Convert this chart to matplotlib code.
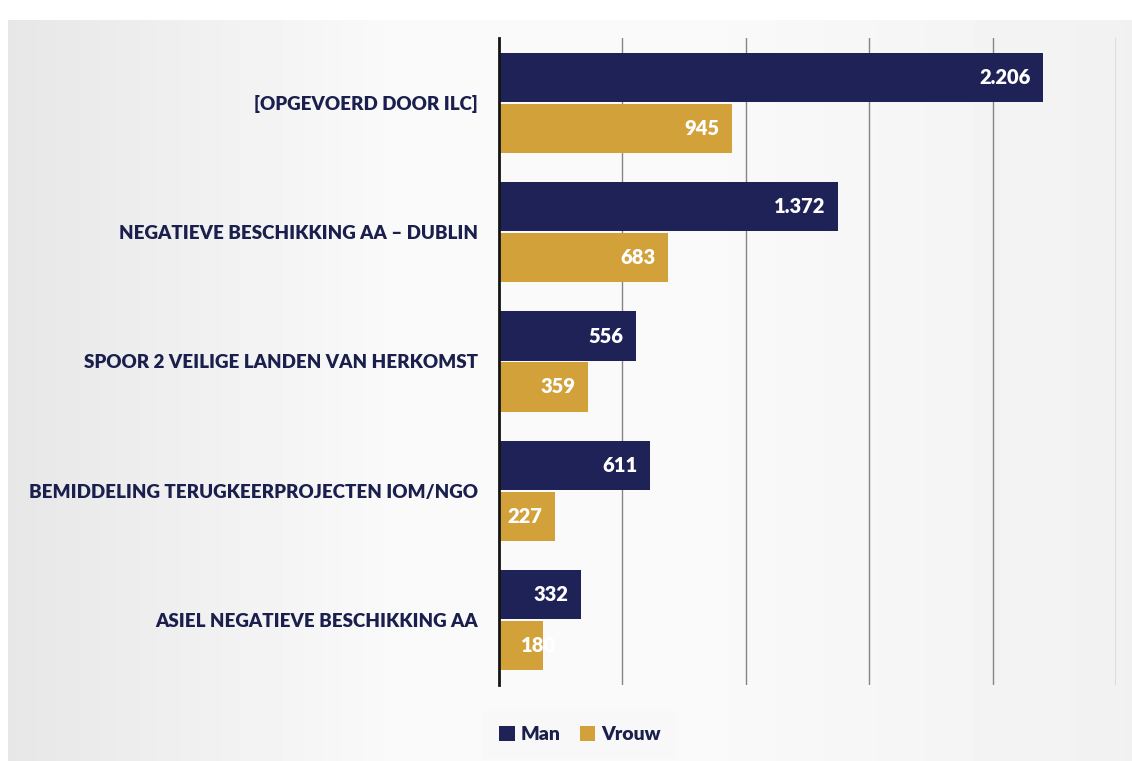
import matplotlib
matplotlib.use("Agg")
import matplotlib.pyplot as plt
import numpy as np

# data
categories = [
    "[OPGEVOERD DOOR ILC]",
    "NEGATIEVE BESCHIKKING AA \u2013 DUBLIN",
    "SPOOR 2 VEILIGE LANDEN VAN HERKOMST",
    "BEMIDDELING TERUGKEERPROJECTEN IOM/NGO",
    "ASIEL NEGATIEVE BESCHIKKING AA",
]
man = [2206, 1372, 556, 611, 332]
vrouw = [945, 683, 359, 227, 180]
series_names = ["Man", "Vrouw"]

# colours
navy = "#1e2257"
gold = "#d3a13a"
label_col = "#1b1f4d"

plt.rcParams['font.family'] = ['Lato', 'DejaVu Sans']

fig = plt.figure(figsize=(11.32, 7.61), dpi=100)
fig.patch.set_facecolor("white")

# soft paper-like background
bg = fig.add_axes([8 / 1132, 0, 1 - 8 / 1132, 1 - 20 / 761], zorder=-5)
xs = np.linspace(0, 1, 300)
shade = 0.905 + 0.075 * np.clip(xs / 0.35, 0, 1) - 0.035 * np.clip((xs - 0.6) / 0.4, 0, 1)
grad = np.tile(shade, (20, 1))
bg.imshow(grad, cmap="gray", vmin=0, vmax=1, aspect="auto", extent=[0, 1, 0, 1])
bg.axis("off")

ax = fig.add_axes([499 / 1132, 1 - 685 / 761, (1116 - 499) / 1132, (685 - 38) / 761])
ax.set_facecolor("none")

y = np.arange(len(categories))
h = 0.38
off = 0.197
b1 = ax.barh(y - off, man, height=h, color=navy, label=series_names[0], zorder=3)
b2 = ax.barh(y + off, vrouw, height=h, color=gold, label=series_names[1], zorder=3)

ax.set_xlim(0, 2500)
ax.set_ylim(len(categories) - 0.5, -0.5)
ax.set_xticks(np.arange(500, 2501, 500))
ax.xaxis.grid(True, color="#858585", linewidth=1.0, zorder=0)
ax.tick_params(axis="x", length=0, labelbottom=False)
ax.tick_params(axis="y", length=0, pad=15)
ax.set_yticks(y)
ax.set_yticklabels(categories, fontsize=13.5, fontweight="heavy", color=label_col)
for s in ["top", "right", "bottom"]:
    ax.spines[s].set_visible(False)
ax.spines["left"].set_color("#151515")
ax.spines["left"].set_linewidth(2)
ax.spines["left"].set_zorder(4)


def fmt(v):
    return f"{v:,}".replace(",", ".")


# value labels inside the bar ends
for bars, vals in [(b1, man), (b2, vrouw)]:
    for bar, v in zip(bars, vals):
        yc = bar.get_y() + bar.get_height() / 2
        if v > 200:
            ax.annotate(fmt(v), (v, yc), xytext=(-9, 0), textcoords="offset points",
                        ha="right", va="center", color="white", fontsize=14.5,
                        fontweight="heavy", zorder=5)
        else:
            ax.annotate(fmt(v), (0, yc), xytext=(16, 0), textcoords="offset points",
                        ha="left", va="center", color="white", fontsize=14.5,
                        fontweight="heavy", zorder=5)

leg = ax.legend(loc="center", bbox_to_anchor=(0.131, -0.077), ncol=2, frameon=True,
                handlelength=0.8, handleheight=0.8, handletextpad=0.3, columnspacing=1.0,
                borderpad=0.5, prop={"size": 14, "weight": "heavy"})
leg.get_frame().set_facecolor("#f8f8f8")
leg.get_frame().set_edgecolor("none")
leg.get_frame().set_boxstyle("square")
for t in leg.get_texts():
    t.set_color(label_col)

fig.savefig("out.png", dpi=100)
